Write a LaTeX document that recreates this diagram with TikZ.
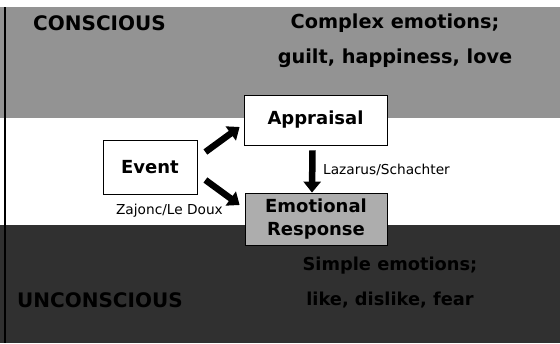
\documentclass[tikz,border=0pt]{standalone}
\usepackage{fontspec}
\setmainfont{DejaVu Sans}
\usetikzlibrary{arrows.meta}
\definecolor{topband}{HTML}{939393}
\definecolor{botband}{HTML}{303030}
\definecolor{emofill}{HTML}{ADADAD}
\tikzset{
  box/.style={draw=black, line width=0.8pt, inner sep=0pt, font=\fontsize{18pt}{23pt}\selectfont\bfseries, align=center},
  bigarrow/.style={line width=6.5pt, -{Triangle[length=11pt,width=17pt]}},
  lbl/.style={font=\fontsize{13.7pt}{16pt}\selectfont, inner sep=0pt},
  bandtext/.style={font=\fontsize{20pt}{24pt}\selectfont\bfseries, inner sep=0pt},
}
\begin{document}
\begin{tikzpicture}[x=1pt, y=-1pt]
\useasboundingbox (0,0) rectangle (560,343);
\fill[white] (0,0) rectangle (560,343);
\fill[topband] (0,7) rectangle (560,118);
\fill[botband] (0,225) rectangle (560,343);
\draw[black, line width=2pt] (4.5,7) -- (4.5,343);
% band texts
\node[bandtext, anchor=west] (conscious) at (33,23) {CONSCIOUS};
\node[font=\fontsize{19.3pt}{35pt}\selectfont\bfseries, align=center, inner sep=0pt] (complex) at (395,40.5) {Complex emotions;\\guilt, happiness, love};
\node[font=\fontsize{17.8pt}{35pt}\selectfont\bfseries, align=center, inner sep=0pt, text=black] (simple) at (390,282.5) {Simple emotions;\\like, dislike, fear};
\node[bandtext, anchor=west, text=black] (unconscious) at (17,300) {UNCONSCIOUS};
% boxes
\node[box, fill=white, minimum width=94pt, minimum height=54pt] (event) at (150,167) {Event};
\node[box, fill=white, minimum width=143pt, minimum height=50pt] (appraisal) at (315.5,120) {Appraisal};
\node[box, fill=emofill, minimum width=142pt, minimum height=52pt] (emo) at (316,219) {Emotional\\Response};
% arrows
\draw[bigarrow] ([shift={(8,-15)}]event.east) -- ([shift={(-4,7)}]appraisal.west);
\draw[bigarrow] ([shift={(8,13)}]event.east) -- ([shift={(-5,-14)}]emo.west);
\draw[bigarrow] ([shift={(-3,5)}]appraisal.south) -- ([shift={(-4,0)}]emo.north);
% labels
\node[lbl, anchor=west] (laz) at (323,170) {Lazarus/Schachter};
\node[lbl, anchor=east] (zaj) at (223,211) {Zajonc/Le Doux};
\end{tikzpicture}
\end{document}
